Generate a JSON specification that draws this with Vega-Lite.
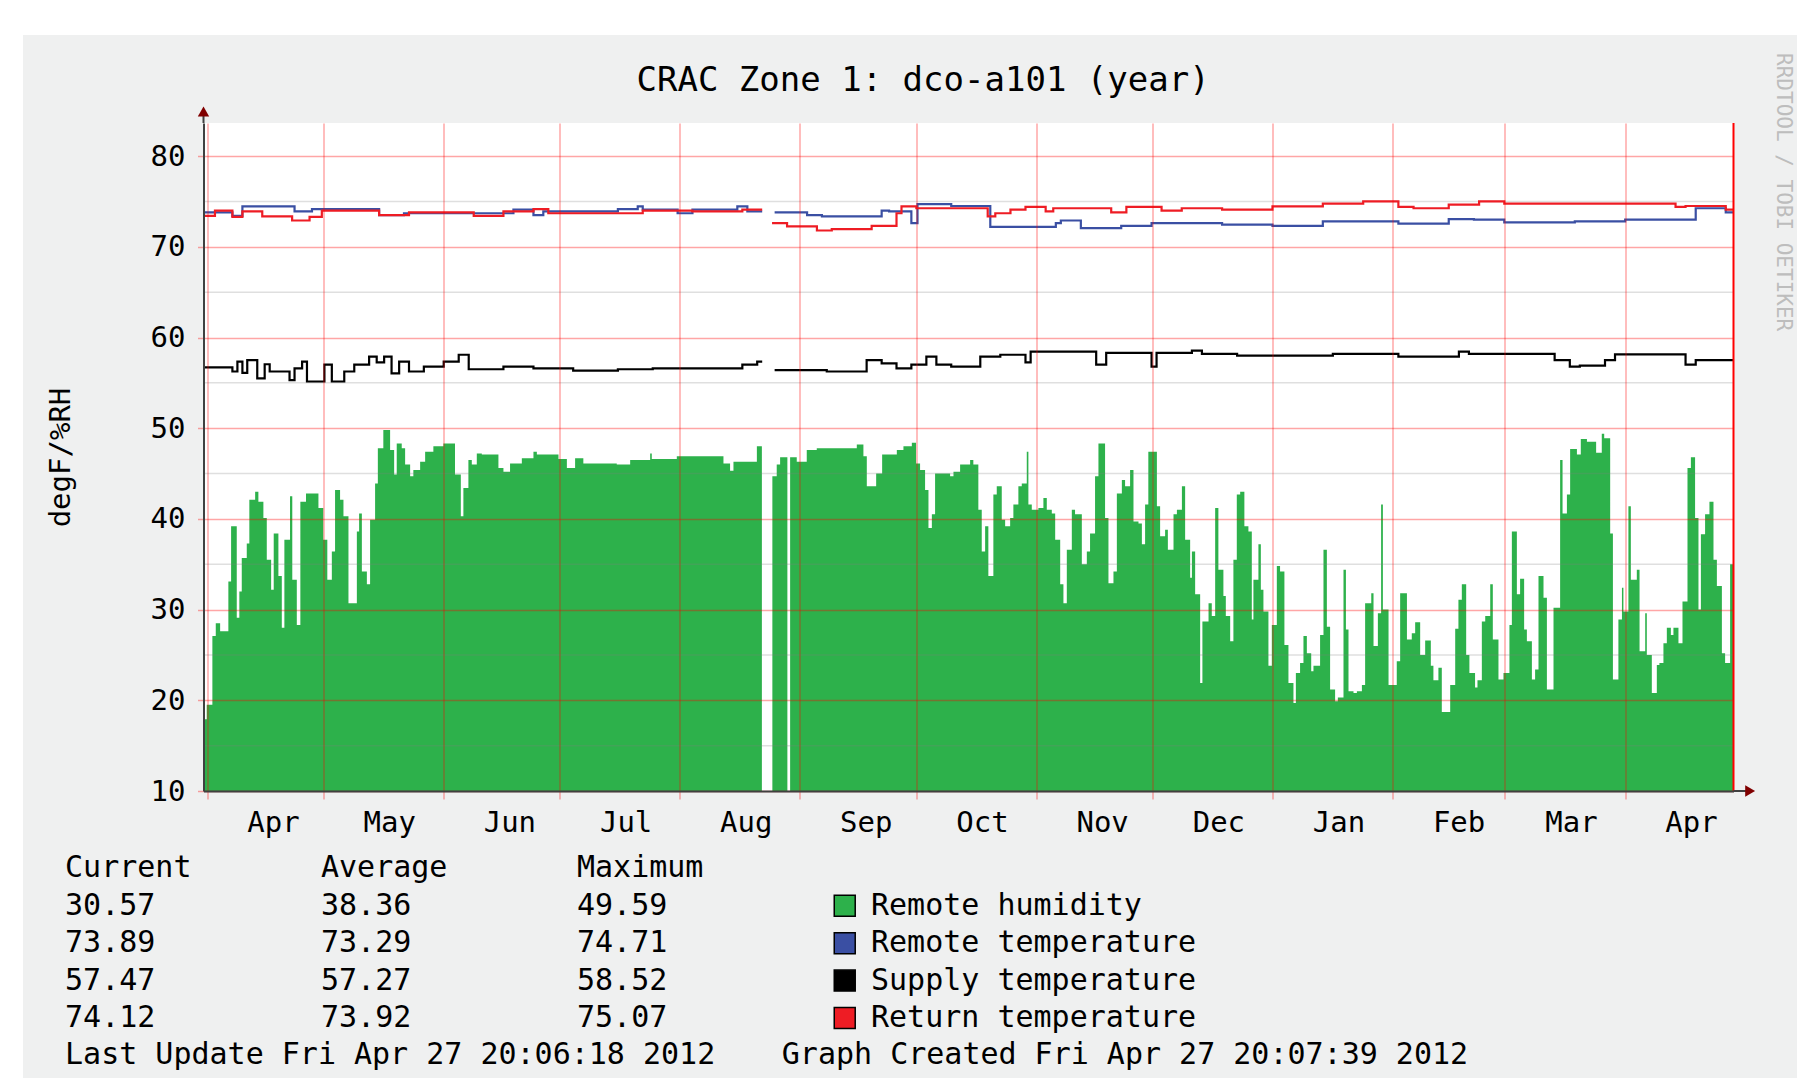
{
  "$schema": "https://vega.github.io/schema/vega-lite/v6.json",
  "width": 1530,
  "height": 668,
  "autosize": {"type": "none"},
  "padding": {"left": 203.5, "top": 123, "right": 63.5, "bottom": 287},
  "background": "#ffffff",
  "config": {
    "view": {"fill": null, "stroke": null},
    "font": "DejaVu Sans Mono",
    "axis": {"labelFont": "DejaVu Sans Mono", "titleFont": "DejaVu Sans Mono", "labelColor": "#000000", "titleColor": "#000000", "titleFontWeight": "normal"},
    "text": {"font": "DejaVu Sans Mono"}
  },
  "datasets": {
    "humidity": [
      {"t": "2011-03-31T02:00", "v": 17.9}, {"t": "2011-03-31T22:00", "v": 19.5}, {"t": "2011-04-02T09:00", "v": 27.1}, {"t": "2011-04-03T06:00", "v": 28.5},
      {"t": "2011-04-04T09:00", "v": 27.6}, {"t": "2011-04-06T12:00", "v": 33.1}, {"t": "2011-04-07T05:00", "v": 39.2}, {"t": "2011-04-08T16:00", "v": 29.1},
      {"t": "2011-04-09T08:00", "v": 32.0}, {"t": "2011-04-09T23:00", "v": 35.7}, {"t": "2011-04-11T06:00", "v": 37.3}, {"t": "2011-04-11T22:00", "v": 42.1},
      {"t": "2011-04-13T10:00", "v": 43.0}, {"t": "2011-04-14T06:00", "v": 41.9}, {"t": "2011-04-15T13:00", "v": 40.1}, {"t": "2011-04-16T10:00", "v": 35.5},
      {"t": "2011-04-17T13:00", "v": 32.2}, {"t": "2011-04-18T05:00", "v": 38.4}, {"t": "2011-04-19T10:00", "v": 33.7}, {"t": "2011-04-20T07:00", "v": 28.0},
      {"t": "2011-04-20T23:00", "v": 37.7}, {"t": "2011-04-22T10:00", "v": 42.5}, {"t": "2011-04-23T00:00", "v": 33.3}, {"t": "2011-04-24T04:00", "v": 28.3},
      {"t": "2011-04-25T02:00", "v": 41.9}, {"t": "2011-04-26T13:00", "v": 42.8}, {"t": "2011-04-29T18:00", "v": 41.2}, {"t": "2011-05-01T00:00", "v": 37.7},
      {"t": "2011-05-02T01:00", "v": 33.3}, {"t": "2011-05-03T05:00", "v": 36.4}, {"t": "2011-05-04T01:00", "v": 43.2}, {"t": "2011-05-05T08:00", "v": 42.1},
      {"t": "2011-05-06T05:00", "v": 40.3}, {"t": "2011-05-07T12:00", "v": 30.7}, {"t": "2011-05-09T16:00", "v": 38.6}, {"t": "2011-05-10T06:00", "v": 40.6},
      {"t": "2011-05-10T23:00", "v": 34.2}, {"t": "2011-05-12T06:00", "v": 32.8}, {"t": "2011-05-13T02:00", "v": 39.9}, {"t": "2011-05-14T09:00", "v": 43.9},
      {"t": "2011-05-15T02:00", "v": 47.8}, {"t": "2011-05-16T12:00", "v": 49.8}, {"t": "2011-05-18T06:00", "v": 47.6}, {"t": "2011-05-19T07:00", "v": 44.9},
      {"t": "2011-05-19T23:00", "v": 48.3}, {"t": "2011-05-21T06:00", "v": 47.8}, {"t": "2011-05-22T03:00", "v": 46.0}, {"t": "2011-05-23T10:00", "v": 44.7},
      {"t": "2011-05-24T06:00", "v": 45.4}, {"t": "2011-05-26T00:00", "v": 46.3}, {"t": "2011-05-27T07:00", "v": 47.4}, {"t": "2011-05-29T10:00", "v": 48.0},
      {"t": "2011-06-01T00:00", "v": 48.3}, {"t": "2011-06-04T00:00", "v": 44.9}, {"t": "2011-06-05T12:00", "v": 40.3}, {"t": "2011-06-06T04:00", "v": 43.4},
      {"t": "2011-06-07T11:00", "v": 46.5}, {"t": "2011-06-08T08:00", "v": 46.0}, {"t": "2011-06-09T15:00", "v": 47.2}, {"t": "2011-06-10T22:00", "v": 47.1},
      {"t": "2011-06-15T05:00", "v": 45.6}, {"t": "2011-06-16T12:00", "v": 45.2}, {"t": "2011-06-18T05:00", "v": 46.1}, {"t": "2011-06-21T06:00", "v": 46.7},
      {"t": "2011-06-24T06:00", "v": 47.4}, {"t": "2011-06-25T03:00", "v": 47.1}, {"t": "2011-06-30T17:00", "v": 46.6}, {"t": "2011-07-02T21:00", "v": 45.6},
      {"t": "2011-07-05T00:00", "v": 46.7}, {"t": "2011-07-07T03:00", "v": 46.1}, {"t": "2011-07-15T18:00", "v": 46.0}, {"t": "2011-07-19T05:00", "v": 46.5},
      {"t": "2011-07-24T09:00", "v": 47.2}, {"t": "2011-07-24T19:00", "v": 46.6}, {"t": "2011-07-31T06:00", "v": 46.9}, {"t": "2011-08-12T07:00", "v": 46.1},
      {"t": "2011-08-14T00:00", "v": 45.3}, {"t": "2011-08-14T21:00", "v": 46.3}, {"t": "2011-08-20T22:00", "v": 48.0}, {"t": "2011-08-22T05:00", "v": 48.0},
      {"t": "2011-08-22T06:00", "v": null}, {"t": "2011-08-24T22:00", "v": 44.7}, {"t": "2011-08-26T01:00", "v": 46.0}, {"t": "2011-08-26T22:00", "v": 46.8},
      {"t": "2011-08-28T19:00", "v": 46.8}, {"t": "2011-08-28T20:00", "v": null}, {"t": "2011-08-29T12:00", "v": 46.8}, {"t": "2011-08-31T05:00", "v": 46.3},
      {"t": "2011-09-02T19:00", "v": 47.6}, {"t": "2011-09-05T09:00", "v": 47.8}, {"t": "2011-09-15T17:00", "v": 48.2}, {"t": "2011-09-17T10:00", "v": 46.9},
      {"t": "2011-09-18T07:00", "v": 43.6}, {"t": "2011-09-20T17:00", "v": 45.0}, {"t": "2011-09-22T06:00", "v": 47.1}, {"t": "2011-09-26T01:00", "v": 47.6},
      {"t": "2011-09-27T18:00", "v": 48.0}, {"t": "2011-09-29T22:00", "v": 48.4}, {"t": "2011-10-01T00:00", "v": 46.1}, {"t": "2011-10-02T01:00", "v": 45.4},
      {"t": "2011-10-03T08:00", "v": 43.2}, {"t": "2011-10-04T05:00", "v": 39.0}, {"t": "2011-10-05T02:00", "v": 40.5}, {"t": "2011-10-05T22:00", "v": 45.0},
      {"t": "2011-10-09T19:00", "v": 44.7}, {"t": "2011-10-10T16:00", "v": 45.2}, {"t": "2011-10-12T09:00", "v": 46.0}, {"t": "2011-10-14T23:00", "v": 46.5},
      {"t": "2011-10-15T19:00", "v": 46.0}, {"t": "2011-10-17T02:00", "v": 41.0}, {"t": "2011-10-17T23:00", "v": 36.4}, {"t": "2011-10-18T20:00", "v": 39.2},
      {"t": "2011-10-19T16:00", "v": 33.7}, {"t": "2011-10-20T23:00", "v": 42.7}, {"t": "2011-10-21T20:00", "v": 43.6}, {"t": "2011-10-23T03:00", "v": 39.9},
      {"t": "2011-10-24T00:00", "v": 39.2}, {"t": "2011-10-25T07:00", "v": 40.1}, {"t": "2011-10-26T03:00", "v": 41.6}, {"t": "2011-10-27T10:00", "v": 43.6},
      {"t": "2011-10-28T07:00", "v": 43.9}, {"t": "2011-10-29T14:00", "v": 47.4}, {"t": "2011-10-30T00:00", "v": 41.6}, {"t": "2011-10-30T21:00", "v": 41.0},
      {"t": "2011-11-01T14:00", "v": 41.2}, {"t": "2011-11-02T21:00", "v": 42.3}, {"t": "2011-11-03T18:00", "v": 41.0}, {"t": "2011-11-05T01:00", "v": 40.6},
      {"t": "2011-11-05T22:00", "v": 37.7}, {"t": "2011-11-07T05:00", "v": 32.8}, {"t": "2011-11-08T01:00", "v": 30.7}, {"t": "2011-11-08T22:00", "v": 36.6},
      {"t": "2011-11-10T05:00", "v": 41.0}, {"t": "2011-11-11T01:00", "v": 40.5}, {"t": "2011-11-12T19:00", "v": 35.0}, {"t": "2011-11-14T02:00", "v": 36.4},
      {"t": "2011-11-14T22:00", "v": 38.4}, {"t": "2011-11-16T05:00", "v": 44.7}, {"t": "2011-11-17T02:00", "v": 48.3}, {"t": "2011-11-18T19:00", "v": 40.1},
      {"t": "2011-11-19T16:00", "v": 32.9}, {"t": "2011-11-20T23:00", "v": 34.2}, {"t": "2011-11-21T20:00", "v": 42.8}, {"t": "2011-11-23T03:00", "v": 44.3},
      {"t": "2011-11-23T23:00", "v": 43.6}, {"t": "2011-11-25T06:00", "v": 45.4}, {"t": "2011-11-26T03:00", "v": 39.7}, {"t": "2011-11-27T10:00", "v": 39.5},
      {"t": "2011-11-28T07:00", "v": 37.2}, {"t": "2011-11-29T03:00", "v": 41.6}, {"t": "2011-11-29T23:00", "v": 47.4}, {"t": "2011-12-02T04:00", "v": 41.4},
      {"t": "2011-12-03T00:00", "v": 38.1}, {"t": "2011-12-04T07:00", "v": 38.8}, {"t": "2011-12-05T00:00", "v": 36.6}, {"t": "2011-12-06T11:00", "v": 40.5},
      {"t": "2011-12-07T08:00", "v": 41.0}, {"t": "2011-12-08T15:00", "v": 43.6}, {"t": "2011-12-09T11:00", "v": 37.7}, {"t": "2011-12-10T18:00", "v": 33.5},
      {"t": "2011-12-11T05:00", "v": 36.4}, {"t": "2011-12-12T01:00", "v": 31.7}, {"t": "2011-12-13T08:00", "v": 21.9}, {"t": "2011-12-13T22:00", "v": 28.7},
      {"t": "2011-12-15T12:00", "v": 30.7}, {"t": "2011-12-16T08:00", "v": 29.3}, {"t": "2011-12-17T05:00", "v": 41.2}, {"t": "2011-12-18T01:00", "v": 34.4},
      {"t": "2011-12-19T08:00", "v": 31.5}, {"t": "2011-12-19T23:00", "v": 29.3}, {"t": "2011-12-21T02:00", "v": 26.5}, {"t": "2011-12-21T22:00", "v": 35.5},
      {"t": "2011-12-22T19:00", "v": 42.7}, {"t": "2011-12-23T16:00", "v": 43.0}, {"t": "2011-12-24T18:00", "v": 39.2}, {"t": "2011-12-25T19:00", "v": 38.6},
      {"t": "2011-12-26T16:00", "v": 28.9}, {"t": "2011-12-27T02:00", "v": 33.3}, {"t": "2011-12-28T09:00", "v": 37.2}, {"t": "2011-12-29T00:00", "v": 32.2},
      {"t": "2011-12-29T16:00", "v": 29.8}, {"t": "2011-12-30T23:00", "v": 23.8}, {"t": "2011-12-31T20:00", "v": 28.3}, {"t": "2012-01-02T03:00", "v": 34.8},
      {"t": "2012-01-02T23:00", "v": 34.2}, {"t": "2012-01-04T02:00", "v": 26.1}, {"t": "2012-01-05T03:00", "v": 21.9}, {"t": "2012-01-06T10:00", "v": 19.7},
      {"t": "2012-01-07T01:00", "v": 23.0}, {"t": "2012-01-08T03:00", "v": 24.1}, {"t": "2012-01-09T00:00", "v": 27.1}, {"t": "2012-01-09T21:00", "v": 25.2},
      {"t": "2012-01-11T00:00", "v": 23.2}, {"t": "2012-01-11T14:00", "v": 23.8}, {"t": "2012-01-13T07:00", "v": 27.2}, {"t": "2012-01-14T04:00", "v": 36.6},
      {"t": "2012-01-15T01:00", "v": 28.1}, {"t": "2012-01-15T21:00", "v": 21.2}, {"t": "2012-01-17T04:00", "v": 19.9}, {"t": "2012-01-17T21:00", "v": 20.3},
      {"t": "2012-01-19T08:00", "v": 34.4}, {"t": "2012-01-19T23:00", "v": 27.8}, {"t": "2012-01-20T15:00", "v": 21.0}, {"t": "2012-01-21T22:00", "v": 20.8},
      {"t": "2012-01-22T19:00", "v": 21.0}, {"t": "2012-01-24T02:00", "v": 21.7}, {"t": "2012-01-24T22:00", "v": 30.7}, {"t": "2012-01-26T12:00", "v": 31.8},
      {"t": "2012-01-27T02:00", "v": 26.0}, {"t": "2012-01-28T05:00", "v": 29.6}, {"t": "2012-01-29T01:00", "v": 41.6}, {"t": "2012-01-29T12:00", "v": 30.0},
      {"t": "2012-01-30T23:00", "v": 21.7}, {"t": "2012-02-02T02:00", "v": 24.3}, {"t": "2012-02-02T23:00", "v": 31.8}, {"t": "2012-02-04T17:00", "v": 26.7},
      {"t": "2012-02-05T23:00", "v": 27.4}, {"t": "2012-02-06T20:00", "v": 28.6}, {"t": "2012-02-08T03:00", "v": 25.0}, {"t": "2012-02-09T10:00", "v": 26.6},
      {"t": "2012-02-10T21:00", "v": 23.8}, {"t": "2012-02-11T13:00", "v": 22.2}, {"t": "2012-02-12T20:00", "v": 23.6}, {"t": "2012-02-13T17:00", "v": 18.7},
      {"t": "2012-02-15T21:00", "v": 21.7}, {"t": "2012-02-17T04:00", "v": 27.9}, {"t": "2012-02-18T00:00", "v": 31.1}, {"t": "2012-02-18T21:00", "v": 32.8},
      {"t": "2012-02-20T00:00", "v": 25.0}, {"t": "2012-02-20T20:00", "v": 23.0}, {"t": "2012-02-22T07:00", "v": 21.4}, {"t": "2012-02-22T22:00", "v": 22.2},
      {"t": "2012-02-24T01:00", "v": 28.7}, {"t": "2012-02-24T22:00", "v": 29.3}, {"t": "2012-02-26T05:00", "v": 32.8}, {"t": "2012-02-26T21:00", "v": 26.7},
      {"t": "2012-02-28T08:00", "v": 22.3}, {"t": "2012-02-29T15:00", "v": 23.0}, {"t": "2012-03-02T04:00", "v": 28.3}, {"t": "2012-03-02T19:00", "v": 38.6},
      {"t": "2012-03-04T02:00", "v": 31.7}, {"t": "2012-03-04T22:00", "v": 33.4}, {"t": "2012-03-05T23:00", "v": 27.8}, {"t": "2012-03-06T16:00", "v": 26.5},
      {"t": "2012-03-07T23:00", "v": 22.3}, {"t": "2012-03-08T19:00", "v": 23.4}, {"t": "2012-03-09T16:00", "v": 33.7}, {"t": "2012-03-10T23:00", "v": 31.3},
      {"t": "2012-03-11T20:00", "v": 21.2}, {"t": "2012-03-13T13:00", "v": 30.2}, {"t": "2012-03-15T06:00", "v": 46.5}, {"t": "2012-03-15T21:00", "v": 40.6},
      {"t": "2012-03-17T00:00", "v": 42.7}, {"t": "2012-03-17T20:00", "v": 47.7}, {"t": "2012-03-19T14:00", "v": 47.1}, {"t": "2012-03-20T14:00", "v": 48.8},
      {"t": "2012-03-22T04:00", "v": 48.5}, {"t": "2012-03-24T13:00", "v": 47.3}, {"t": "2012-03-26T00:00", "v": 49.4}, {"t": "2012-03-26T15:00", "v": 48.9},
      {"t": "2012-03-28T04:00", "v": 38.4}, {"t": "2012-03-28T21:00", "v": 22.3}, {"t": "2012-03-30T07:00", "v": 28.9}, {"t": "2012-03-31T05:00", "v": 32.4},
      {"t": "2012-03-31T14:00", "v": 29.8}, {"t": "2012-04-01T21:00", "v": 41.4}, {"t": "2012-04-02T12:00", "v": 33.3}, {"t": "2012-04-04T01:00", "v": 34.4},
      {"t": "2012-04-04T18:00", "v": 25.4}, {"t": "2012-04-06T05:00", "v": 29.6}, {"t": "2012-04-06T15:00", "v": 25.0}, {"t": "2012-04-07T22:00", "v": 20.8},
      {"t": "2012-04-09T05:00", "v": 23.9}, {"t": "2012-04-09T21:00", "v": 24.1}, {"t": "2012-04-10T22:00", "v": 26.3}, {"t": "2012-04-11T19:00", "v": 28.0},
      {"t": "2012-04-12T20:00", "v": 27.2}, {"t": "2012-04-13T12:00", "v": 28.0}, {"t": "2012-04-14T19:00", "v": 26.3}, {"t": "2012-04-15T20:00", "v": 30.9},
      {"t": "2012-04-17T03:00", "v": 45.6}, {"t": "2012-04-18T00:00", "v": 46.8}, {"t": "2012-04-19T02:00", "v": 40.1}, {"t": "2012-04-19T23:00", "v": 30.0},
      {"t": "2012-04-20T14:00", "v": 38.3}, {"t": "2012-04-21T16:00", "v": 40.5}, {"t": "2012-04-22T19:00", "v": 41.9}, {"t": "2012-04-23T20:00", "v": 35.5},
      {"t": "2012-04-24T17:00", "v": 32.6}, {"t": "2012-04-26T00:00", "v": 25.2}, {"t": "2012-04-26T20:00", "v": 24.1}, {"t": "2012-04-28T03:00", "v": 35.0},
      {"t": "2012-04-29T00:00", "v": 35.0}
    ],
    "remoteTemp": [
      {"t": "2011-03-31T02:00", "v": 73.8}, {"t": "2011-04-07T13:00", "v": 73.4}, {"t": "2011-04-10T03:00", "v": 74.45}, {"t": "2011-04-23T14:00", "v": 73.9},
      {"t": "2011-04-28T02:00", "v": 74.15}, {"t": "2011-05-15T10:00", "v": 73.5}, {"t": "2011-05-21T20:00", "v": 73.7}, {"t": "2011-06-19T02:00", "v": 74.1},
      {"t": "2011-06-24T06:00", "v": 73.5}, {"t": "2011-06-26T19:00", "v": 73.9}, {"t": "2011-07-16T01:00", "v": 74.15}, {"t": "2011-07-21T04:00", "v": 74.45},
      {"t": "2011-07-22T11:00", "v": 74.1}, {"t": "2011-07-31T11:00", "v": 73.7}, {"t": "2011-08-04T07:00", "v": 74.1}, {"t": "2011-08-15T21:00", "v": 74.45},
      {"t": "2011-08-18T11:00", "v": 73.9}, {"t": "2011-08-22T07:00", "v": 73.9}, {"t": "2011-08-22T08:00", "v": null}, {"t": "2011-08-25T12:00", "v": 73.8},
      {"t": "2011-09-02T21:00", "v": 73.5}, {"t": "2011-09-06T17:00", "v": 73.35}, {"t": "2011-09-22T03:00", "v": 74.0}, {"t": "2011-09-24T01:00", "v": 73.9},
      {"t": "2011-09-29T19:00", "v": 72.6}, {"t": "2011-10-01T09:00", "v": 74.7}, {"t": "2011-10-10T02:00", "v": 74.5}, {"t": "2011-10-20T04:00", "v": 72.2},
      {"t": "2011-11-06T02:00", "v": 72.6}, {"t": "2011-11-07T09:00", "v": 72.9}, {"t": "2011-11-12T13:00", "v": 72.05}, {"t": "2011-11-22T23:00", "v": 72.3},
      {"t": "2011-11-30T19:00", "v": 72.6}, {"t": "2011-12-19T00:00", "v": 72.45}, {"t": "2012-01-01T00:00", "v": 72.3}, {"t": "2012-01-14T00:00", "v": 72.8},
      {"t": "2012-02-02T12:00", "v": 72.55}, {"t": "2012-02-15T12:00", "v": 73.05}, {"t": "2012-02-22T00:00", "v": 73.0}, {"t": "2012-02-29T20:00", "v": 72.7},
      {"t": "2012-03-19T01:00", "v": 72.8}, {"t": "2012-04-01T01:00", "v": 73.0}, {"t": "2012-04-19T06:00", "v": 74.25}, {"t": "2012-04-27T00:00", "v": 73.8},
      {"t": "2012-04-29T00:00", "v": 73.8}
    ],
    "supplyTemp": [
      {"t": "2011-03-31T02:00", "v": 56.7}, {"t": "2011-04-07T13:00", "v": 56.25}, {"t": "2011-04-08T20:00", "v": 57.35}, {"t": "2011-04-10T03:00", "v": 56.1},
      {"t": "2011-04-11T09:00", "v": 57.5}, {"t": "2011-04-13T23:00", "v": 55.5}, {"t": "2011-04-15T21:00", "v": 57.05}, {"t": "2011-04-17T04:00", "v": 56.25},
      {"t": "2011-04-22T07:00", "v": 55.3}, {"t": "2011-04-23T14:00", "v": 56.6}, {"t": "2011-04-25T13:00", "v": 57.35}, {"t": "2011-04-26T19:00", "v": 55.15},
      {"t": "2011-05-01T07:00", "v": 57.0}, {"t": "2011-05-03T05:00", "v": 55.15}, {"t": "2011-05-06T10:00", "v": 56.25}, {"t": "2011-05-09T00:00", "v": 57.0},
      {"t": "2011-05-12T20:00", "v": 57.9}, {"t": "2011-05-14T19:00", "v": 57.25}, {"t": "2011-05-16T17:00", "v": 57.9}, {"t": "2011-05-18T15:00", "v": 56.05},
      {"t": "2011-05-20T14:00", "v": 57.35}, {"t": "2011-05-23T03:00", "v": 56.25}, {"t": "2011-05-26T23:00", "v": 56.8}, {"t": "2011-06-01T02:00", "v": 57.35},
      {"t": "2011-06-04T23:00", "v": 58.1}, {"t": "2011-06-07T13:00", "v": 56.5}, {"t": "2011-06-16T12:00", "v": 56.8}, {"t": "2011-06-24T06:00", "v": 56.6},
      {"t": "2011-07-04T12:00", "v": 56.35}, {"t": "2011-07-16T01:00", "v": 56.5}, {"t": "2011-07-25T01:00", "v": 56.6}, {"t": "2011-08-17T04:00", "v": 57.0},
      {"t": "2011-08-21T00:00", "v": 57.35}, {"t": "2011-08-22T07:00", "v": 57.35}, {"t": "2011-08-22T08:00", "v": null}, {"t": "2011-08-25T12:00", "v": 56.4},
      {"t": "2011-09-07T23:00", "v": 56.25}, {"t": "2011-09-18T06:00", "v": 57.5}, {"t": "2011-09-22T03:00", "v": 57.15}, {"t": "2011-09-25T23:00", "v": 56.6},
      {"t": "2011-09-29T19:00", "v": 57.0}, {"t": "2011-10-03T16:00", "v": 57.9}, {"t": "2011-10-06T06:00", "v": 57.0}, {"t": "2011-10-10T02:00", "v": 56.8},
      {"t": "2011-10-17T14:00", "v": 57.9}, {"t": "2011-10-22T18:00", "v": 58.1}, {"t": "2011-10-29T06:00", "v": 57.25}, {"t": "2011-10-30T14:00", "v": 58.45},
      {"t": "2011-11-16T12:00", "v": 57.0}, {"t": "2011-11-19T02:00", "v": 58.3}, {"t": "2011-11-30T19:00", "v": 56.8}, {"t": "2011-12-02T02:00", "v": 58.3},
      {"t": "2011-12-11T05:00", "v": 58.55}, {"t": "2011-12-13T19:00", "v": 58.2}, {"t": "2011-12-22T21:00", "v": 58.0}, {"t": "2012-01-16T14:00", "v": 58.2},
      {"t": "2012-02-02T12:00", "v": 57.9}, {"t": "2012-02-18T03:00", "v": 58.45}, {"t": "2012-02-20T17:00", "v": 58.2}, {"t": "2012-03-13T20:00", "v": 57.5},
      {"t": "2012-03-17T18:00", "v": 56.8}, {"t": "2012-03-20T08:00", "v": 56.9}, {"t": "2012-03-26T20:00", "v": 57.5}, {"t": "2012-03-29T10:00", "v": 58.15},
      {"t": "2012-04-16T15:00", "v": 57.0}, {"t": "2012-04-19T06:00", "v": 57.5}, {"t": "2012-04-29T00:00", "v": 57.5}
    ],
    "returnTemp": [
      {"t": "2011-03-31T02:00", "v": 73.4}, {"t": "2011-04-03T01:00", "v": 74.0}, {"t": "2011-04-07T13:00", "v": 73.3}, {"t": "2011-04-10T03:00", "v": 73.9},
      {"t": "2011-04-15T06:00", "v": 73.35}, {"t": "2011-04-22T23:00", "v": 72.9}, {"t": "2011-04-27T11:00", "v": 73.3}, {"t": "2011-04-30T15:00", "v": 74.0},
      {"t": "2011-05-15T10:00", "v": 73.5}, {"t": "2011-05-23T03:00", "v": 73.8}, {"t": "2011-06-08T20:00", "v": 73.4}, {"t": "2011-06-16T12:00", "v": 73.9},
      {"t": "2011-06-24T06:00", "v": 74.15}, {"t": "2011-06-28T02:00", "v": 73.7}, {"t": "2011-07-22T11:00", "v": 74.0}, {"t": "2011-08-04T07:00", "v": 73.9},
      {"t": "2011-08-17T04:00", "v": 74.1}, {"t": "2011-08-22T07:00", "v": 74.1}, {"t": "2011-08-22T08:00", "v": null}, {"t": "2011-08-24T20:00", "v": 72.6},
      {"t": "2011-08-28T17:00", "v": 72.25}, {"t": "2011-09-05T10:00", "v": 71.8}, {"t": "2011-09-09T06:00", "v": 71.95}, {"t": "2011-09-19T13:00", "v": 72.3},
      {"t": "2011-09-25T23:00", "v": 73.7}, {"t": "2011-09-27T06:00", "v": 74.45}, {"t": "2011-10-01T02:00", "v": 74.25}, {"t": "2011-10-19T12:00", "v": 73.35},
      {"t": "2011-10-21T11:00", "v": 73.7}, {"t": "2011-10-25T09:00", "v": 74.1}, {"t": "2011-10-29T06:00", "v": 74.4}, {"t": "2011-11-03T11:00", "v": 73.9},
      {"t": "2011-11-05T10:00", "v": 74.25}, {"t": "2011-11-20T09:00", "v": 73.8}, {"t": "2011-11-24T07:00", "v": 74.4}, {"t": "2011-12-03T09:00", "v": 74.0},
      {"t": "2011-12-08T14:00", "v": 74.25}, {"t": "2011-12-19T00:00", "v": 74.1}, {"t": "2012-01-01T00:00", "v": 74.45}, {"t": "2012-01-14T00:00", "v": 74.75},
      {"t": "2012-01-24T10:00", "v": 75.0}, {"t": "2012-02-02T12:00", "v": 74.4}, {"t": "2012-02-06T10:00", "v": 74.25}, {"t": "2012-02-15T12:00", "v": 74.65},
      {"t": "2012-02-23T08:00", "v": 75.0}, {"t": "2012-02-29T20:00", "v": 74.75}, {"t": "2012-04-14T01:00", "v": 74.4}, {"t": "2012-04-16T15:00", "v": 74.5},
      {"t": "2012-04-27T00:00", "v": 74.1}, {"t": "2012-04-29T00:00", "v": 74.1}
    ],
    "minorGrid": [{"v": 15}, {"v": 25}, {"v": 35}, {"v": 45}, {"v": 55}, {"v": 65}, {"v": 75}],
    "legendText": [
      {"line": 1, "col": 0, "text": "Current"}, {"line": 1, "col": 1, "text": "Average"}, {"line": 1, "col": 2, "text": "Maximum"},
      {"line": 2, "col": 0, "text": "30.57"}, {"line": 2, "col": 1, "text": "38.36"}, {"line": 2, "col": 2, "text": "49.59"},
      {"line": 3, "col": 0, "text": "73.89"}, {"line": 3, "col": 1, "text": "73.29"}, {"line": 3, "col": 2, "text": "74.71"},
      {"line": 4, "col": 0, "text": "57.47"}, {"line": 4, "col": 1, "text": "57.27"}, {"line": 4, "col": 2, "text": "58.52"},
      {"line": 5, "col": 0, "text": "74.12"}, {"line": 5, "col": 1, "text": "73.92"}, {"line": 5, "col": 2, "text": "75.07"},
      {"line": 6, "col": 0, "text": "Last Update Fri Apr 27 20:06:18 2012"}, {"line": 6, "col": 2.8, "text": "Graph Created Fri Apr 27 20:07:39 2012"}
    ],
    "legendSeries": [
      {"line": 2, "series": "Remote humidity"}, {"line": 3, "series": "Remote temperature"},
      {"line": 4, "series": "Supply temperature"}, {"line": 5, "series": "Return temperature"}
    ]
  },
  "layer": [
    {
      "data": {"values": [{}]},
      "mark": {"type": "rect", "color": "#eff0f0", "opacity": 1},
      "encoding": {
        "x": {"datum": -0.164, "type": "quantitative", "scale": {"domain": [0.541, 6.518], "nice": false, "zero": false}, "axis": null},
        "x2": {"datum": 7.2},
        "y": {"datum": -21.283, "type": "quantitative", "scale": {"domain": [-18.93, -1.069], "reverse": true, "nice": false, "zero": false}, "axis": null},
        "y2": {"datum": 7.2}
      }
    },
    {
      "layer": [
        {
          "data": {"values": [{}]},
          "mark": {"type": "rect", "color": "#ffffff", "opacity": 1},
          "encoding": {
            "x": {"datum": {"year": 2011, "month": 3, "date": 31, "hours": 2}, "type": "temporal", "scale": {"domain": [{"year": 2011, "month": 3, "date": 31, "hours": 2}, {"year": 2012, "month": 4, "date": 29}], "nice": false}},
            "x2": {"datum": {"year": 2012, "month": 4, "date": 29}},
            "y": {"datum": 10, "type": "quantitative", "scale": {"domain": [10, 83.65], "nice": false, "zero": false}},
            "y2": {"datum": 83.65}
          }
        },
        {
          "data": {"name": "humidity"},
          "mark": {"type": "area", "interpolate": "step-after", "color": "#2db14b", "opacity": 1, "invalid": "break-paths-filter-domains"},
          "encoding": {
            "x": {"field": "t", "type": "temporal",
              "scale": {"domain": [{"year": 2011, "month": 3, "date": 31, "hours": 2}, {"year": 2012, "month": 4, "date": 29}], "nice": false},
              "axis": {"orient": "bottom", "tickCount": {"interval": "month", "step": 1}, "format": "%b", "labelOffset": 66, "labelAlign": "center",
                "labelFlush": false, "labelOverlap": false, "labelBound": false, "labelFontSize": 29, "labelPadding": 9,
                "ticks": true, "tickColor": "#ff0000", "tickOpacity": 0.35, "tickSize": 8, "tickWidth": 1.5,
                "grid": true, "gridColor": "#ff0000", "gridOpacity": 0.35, "gridWidth": 1.5,
                "domain": true, "domainColor": "#404040", "domainWidth": 2, "title": null, "zindex": 1}},
            "y": {"field": "v", "type": "quantitative",
              "scale": {"domain": [10, 83.65], "nice": false, "zero": false},
              "axis": {"values": [10, 20, 30, 40, 50, 60, 70, 80], "labelFontSize": 29, "labelPadding": 12.5,
                "ticks": true, "tickColor": "#ff0000", "tickOpacity": 0.35, "tickSize": 6, "tickWidth": 1.5,
                "grid": true, "gridColor": "#ff0000", "gridOpacity": 0.35, "gridWidth": 1.5,
                "domain": true, "domainColor": "#404040", "domainWidth": 2,
                "title": "degF/%RH", "titleFontSize": 29, "titlePadding": 75, "zindex": 1}},
            "y2": {"datum": 10}
          }
        },
        {
          "data": {"name": "minorGrid"},
          "mark": {"type": "rule", "color": "#808080", "opacity": 0.25, "strokeWidth": 1.5},
          "encoding": {"y": {"field": "v", "type": "quantitative", "scale": {"domain": [10, 83.65], "nice": false, "zero": false}}}
        },
        {
          "data": {"name": "remoteTemp"},
          "mark": {"type": "line", "interpolate": "step-after", "color": "#3a4fa3", "strokeWidth": 2.2, "invalid": "break-paths-filter-domains"},
          "encoding": {
            "x": {"field": "t", "type": "temporal", "scale": {"domain": [{"year": 2011, "month": 3, "date": 31, "hours": 2}, {"year": 2012, "month": 4, "date": 29}], "nice": false}},
            "y": {"field": "v", "type": "quantitative", "scale": {"domain": [10, 83.65], "nice": false, "zero": false}}
          }
        },
        {
          "data": {"name": "supplyTemp"},
          "mark": {"type": "line", "interpolate": "step-after", "color": "#000000", "strokeWidth": 2.2, "invalid": "break-paths-filter-domains"},
          "encoding": {
            "x": {"field": "t", "type": "temporal", "scale": {"domain": [{"year": 2011, "month": 3, "date": 31, "hours": 2}, {"year": 2012, "month": 4, "date": 29}], "nice": false}},
            "y": {"field": "v", "type": "quantitative", "scale": {"domain": [10, 83.65], "nice": false, "zero": false}}
          }
        },
        {
          "data": {"name": "returnTemp"},
          "mark": {"type": "line", "interpolate": "step-after", "color": "#ee1c24", "strokeWidth": 2.2, "invalid": "break-paths-filter-domains"},
          "encoding": {
            "x": {"field": "t", "type": "temporal", "scale": {"domain": [{"year": 2011, "month": 3, "date": 31, "hours": 2}, {"year": 2012, "month": 4, "date": 29}], "nice": false}},
            "y": {"field": "v", "type": "quantitative", "scale": {"domain": [10, 83.65], "nice": false, "zero": false}}
          }
        },
        {
          "data": {"values": [{}]},
          "mark": {"type": "rule", "color": "#ff0000", "strokeWidth": 2},
          "encoding": {
            "x": {"datum": {"year": 2012, "month": 4, "date": 29}, "type": "temporal", "scale": {"domain": [{"year": 2011, "month": 3, "date": 31, "hours": 2}, {"year": 2012, "month": 4, "date": 29}], "nice": false}}
          }
        },
        {
          "data": {"values": [{}]},
          "mark": {"type": "rule", "color": "#404040", "strokeWidth": 2},
          "encoding": {
            "x": {"datum": {"year": 2012, "month": 4, "date": 29}, "type": "temporal", "scale": {"domain": [{"year": 2011, "month": 3, "date": 31, "hours": 2}, {"year": 2012, "month": 4, "date": 29}], "nice": false}},
            "x2": {"datum": {"year": 2012, "month": 5, "date": 2, "hours": 12}},
            "y": {"datum": 10, "type": "quantitative", "scale": {"domain": [10, 83.65], "nice": false, "zero": false}}
          }
        },
        {
          "data": {"values": [{}]},
          "mark": {"type": "rule", "color": "#404040", "strokeWidth": 2},
          "encoding": {
            "x": {"datum": {"year": 2011, "month": 3, "date": 31, "hours": 2}, "type": "temporal", "scale": {"domain": [{"year": 2011, "month": 3, "date": 31, "hours": 2}, {"year": 2012, "month": 4, "date": 29}], "nice": false}},
            "y": {"datum": 83.65, "type": "quantitative", "scale": {"domain": [10, 83.65], "nice": false, "zero": false}},
            "y2": {"datum": 84.5}
          }
        },
        {
          "data": {"values": [{}]},
          "mark": {"type": "point", "shape": "triangle-right", "filled": true, "color": "#800000", "size": 130, "opacity": 1},
          "encoding": {
            "x": {"datum": {"year": 2012, "month": 5, "date": 3, "hours": 7}, "type": "temporal", "scale": {"domain": [{"year": 2011, "month": 3, "date": 31, "hours": 2}, {"year": 2012, "month": 4, "date": 29}], "nice": false}},
            "y": {"datum": 10, "type": "quantitative", "scale": {"domain": [10, 83.65], "nice": false, "zero": false}}
          }
        },
        {
          "data": {"values": [{}]},
          "mark": {"type": "point", "shape": "triangle-up", "filled": true, "color": "#800000", "size": 130, "opacity": 1},
          "encoding": {
            "x": {"datum": {"year": 2011, "month": 3, "date": 31, "hours": 2}, "type": "temporal", "scale": {"domain": [{"year": 2011, "month": 3, "date": 31, "hours": 2}, {"year": 2012, "month": 4, "date": 29}], "nice": false}},
            "y": {"datum": 84.92, "type": "quantitative", "scale": {"domain": [10, 83.65], "nice": false, "zero": false}}
          }
        }
      ]
    },
    {
      "layer": [
        {
          "data": {"name": "legendText"},
          "mark": {"type": "text", "align": "left", "baseline": "middle", "font": "DejaVu Sans Mono", "fontSize": 30, "color": "#000000"},
          "encoding": {
            "x": {"field": "col", "type": "quantitative", "scale": {"domain": [0.541, 6.518], "nice": false, "zero": false}, "axis": null},
            "y": {"field": "line", "type": "quantitative", "scale": {"domain": [-18.93, -1.069], "reverse": true, "nice": false, "zero": false}, "axis": null},
            "text": {"field": "text", "type": "nominal"}
          }
        },
        {
          "data": {"name": "legendSeries"},
          "mark": {"type": "point", "shape": "square", "filled": true, "size": 440, "stroke": "#000000", "strokeWidth": 1.5, "opacity": 1},
          "encoding": {
            "x": {"datum": 3.046, "type": "quantitative", "scale": {"domain": [0.541, 6.518], "nice": false, "zero": false}, "axis": null},
            "y": {"field": "line", "type": "quantitative", "scale": {"domain": [-18.93, -1.069], "reverse": true, "nice": false, "zero": false}, "axis": null},
            "color": {"field": "series", "type": "nominal", "legend": null,
              "scale": {"domain": ["Remote humidity", "Remote temperature", "Supply temperature", "Return temperature"], "range": ["#2db14b", "#3a4fa3", "#000000", "#ee1c24"]}}
          }
        },
        {
          "data": {"name": "legendSeries"},
          "mark": {"type": "text", "align": "left", "baseline": "middle", "font": "DejaVu Sans Mono", "fontSize": 30, "color": "#000000", "dx": 38},
          "encoding": {
            "x": {"datum": 3, "type": "quantitative", "scale": {"domain": [0.541, 6.518], "nice": false, "zero": false}, "axis": null},
            "y": {"field": "line", "type": "quantitative", "scale": {"domain": [-18.93, -1.069], "reverse": true, "nice": false, "zero": false}, "axis": null},
            "text": {"field": "series", "type": "nominal"}
          }
        },
        {
          "data": {"values": [{"text": "CRAC Zone 1: dco-a101 (year)"}]},
          "mark": {"type": "text", "align": "center", "baseline": "middle", "font": "DejaVu Sans Mono", "fontSize": 34, "color": "#000000"},
          "encoding": {
            "x": {"datum": 3.352, "type": "quantitative", "scale": {"domain": [0.541, 6.518], "nice": false, "zero": false}, "axis": null},
            "y": {"datum": -20.05, "type": "quantitative", "scale": {"domain": [-18.93, -1.069], "reverse": true, "nice": false, "zero": false}, "axis": null},
            "text": {"field": "text", "type": "nominal"}
          }
        },
        {
          "data": {"values": [{"text": "RRDTOOL / TOBI OETIKER"}]},
          "mark": {"type": "text", "align": "left", "baseline": "middle", "angle": 90, "font": "DejaVu Sans Mono", "fontSize": 21, "color": "#bdbdbd"},
          "encoding": {
            "x": {"datum": 6.712, "type": "quantitative", "scale": {"domain": [0.541, 6.518], "nice": false, "zero": false}, "axis": null},
            "y": {"datum": -20.8, "type": "quantitative", "scale": {"domain": [-18.93, -1.069], "reverse": true, "nice": false, "zero": false}, "axis": null},
            "text": {"field": "text", "type": "nominal"}
          }
        }
      ]
    }
  ],
  "resolve": {"scale": {"x": "independent", "y": "independent"}}
}
